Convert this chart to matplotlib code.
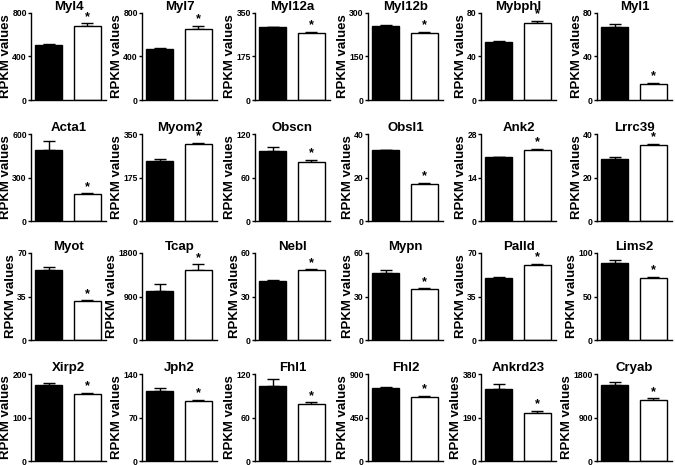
import matplotlib
matplotlib.use("Agg")
import matplotlib.pyplot as plt

plt.rcParams["font.family"] = ["Liberation Sans", "DejaVu Sans"]
plt.rcParams["font.weight"] = "bold"

genes = ["Myl4", "Myl7", "Myl12a", "Myl12b", "Mybphl", "Myl1",
         "Acta1", "Myom2", "Obscn", "Obsl1", "Ank2", "Lrrc39",
         "Myot", "Tcap", "Nebl", "Mypn", "Palld", "Lims2",
         "Xirp2", "Jph2", "Fhl1", "Fhl2", "Ankrd23", "Cryab"]
ctrl = [510, 470, 292, 255, 53, 67,
        490, 240, 97, 32.5, 20.5, 28.5,
        56, 1020, 40.5, 46, 50, 89,
        175, 113, 103, 760, 315, 1580]
ctrl_err = [8, 8, 3, 3, 1, 2.5,
            60, 10, 5, 0.3, 0.2, 1,
            3, 130, 1, 2.5, 1, 3,
            5, 5, 10, 10, 20, 60]
treat = [680, 655, 270, 232, 71, 15,
         183, 310, 82, 17.2, 22.8, 35,
         31, 1450, 48, 35, 60, 71,
         154, 96, 78, 665, 210, 1270]
treat_err = [25, 25, 4, 3, 2, 0.7,
             7, 4, 2, 0.4, 0.4, 0.5,
             1, 120, 0.8, 0.7, 1.2, 1.5,
             3, 2, 3, 10, 10, 30]
ymax = [800, 800, 350, 300, 80, 80,
        600, 350, 120, 40, 28, 40,
        70, 1800, 60, 60, 70, 100,
        200, 140, 120, 900, 380, 1800]

W, H = 675, 465
fig = plt.figure(figsize=(W / 100, H / 100), dpi=100)
col_x = [31, 142, 255, 368, 481, 597]     # y-axis position, px from left
row_bottom = [100, 221, 340, 461]         # x-axis position, px from top
aw, ah = 75, 87

for i, g in enumerate(genes):
    r, c = divmod(i, 6)
    ax = fig.add_axes([col_x[c] / W, 1 - row_bottom[r] / H, aw / W, ah / H])
    ax.bar([0, 1], [ctrl[i], treat[i]], width=0.69, color=["black", "white"],
           edgecolor="black", linewidth=1.0, zorder=2)
    ax.errorbar([0, 1], [ctrl[i], treat[i]], yerr=[[0, 0], [ctrl_err[i], treat_err[i]]],
                fmt="none", ecolor="black", elinewidth=1.0, capsize=4, capthick=1.0, zorder=1)
    ax.text(1, treat[i] + treat_err[i] + ymax[i] * 0.005, "*", ha="center", va="bottom",
            fontsize=9, fontweight="bold")
    ax.set_xlim(-0.46, 1.48)
    ax.set_ylim(0, ymax[i])
    ticks = [0, ymax[i] / 2, ymax[i]]
    ax.set_yticks(ticks)
    ax.set_yticklabels([f"{v:g}" for v in ticks])
    ax.set_xticks([])
    ax.spines["top"].set_visible(False)
    ax.spines["right"].set_visible(False)
    ax.spines["left"].set_linewidth(1.0)
    ax.spines["bottom"].set_linewidth(1.0)
    ax.tick_params(axis="y", labelsize=6.2, length=2.5, width=1.0, pad=0.5)
    for lbl in ax.get_yticklabels():
        lbl.set_fontweight("bold")
    ax.set_title(g, fontsize=9.5, fontweight="bold", pad=1)
    ax.set_ylabel("RPKM values", fontsize=9.5, fontweight="bold", labelpad=0)

fig.savefig("out.png", dpi=100, facecolor="white")
